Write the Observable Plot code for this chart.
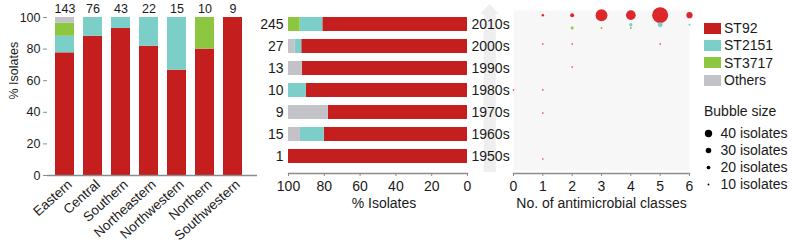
<!DOCTYPE html>
<html><head><meta charset="utf-8">
<script src="https://cdn.jsdelivr.net/npm/d3@7"></script>
<script src="https://cdn.jsdelivr.net/npm/@observablehq/plot@0.6"></script>
<style>
body{margin:0;background:#fff;}
#wrap{position:relative;width:798px;height:244px;overflow:hidden;font-family:"Liberation Sans",Arial,Helvetica,sans-serif;color:#1a1a1a;}
#wrap svg{position:absolute;left:0;top:0;}
#wrap svg.pl-left text{font-size:12.5px;}
#wrap svg.pl-left .rl text{font-size:13.5px;}
#wrap svg.pl-mid text{font-size:14px;}
#wrap svg.pl-bub text{font-size:14px;}
#wrap svg.pl-leg text{font-size:14px;}
.arrow{position:absolute;left:480px;top:4px;width:19px;height:168px;background:#efefef;clip-path:polygon(50% 0,100% 6%,83% 6%,83% 100%,19% 100%,19% 6%,0 6%);}
.sw{position:absolute;left:704px;width:17px;height:11px;}
.lg{position:absolute;left:724px;font-size:14px;line-height:16px;white-space:nowrap;}
.bt{position:absolute;left:704px;top:103px;font-size:14px;line-height:16px;white-space:nowrap;}
</style></head>
<body>
<div id="wrap"><div class="arrow"></div></div>
<script>
// ---------- data ----------
const stNames = ["ST92", "ST2151", "ST3717", "Others"];
const stColors = ["#c41e1e", "#7ccfc8", "#8dc641", "#c2c2c8"];
const bubbleColors = ["#dc272b", "#7ccfc8", "#8dc641", "#c2c2c8"];

const regions = ["Eastern", "Central", "Southern", "Northeastern", "Northwestern", "Northern", "Southwestern"];
const regionTotals = [143, 76, 43, 22, 15, 10, 9];
const regionST92 = [111, 67, 40, 18, 10, 8, 9];
const regionST2151 = [15, 9, 3, 4, 5, 0, 0];
const regionST3717 = [12, 0, 0, 0, 0, 2, 0];
const regionOthers = [5, 0, 0, 0, 0, 0, 0];

const decades = ["2010s", "2000s", "1990s", "1980s", "1970s", "1960s", "1950s"];
const decadeTotals = [245, 27, 13, 10, 9, 15, 1];
const decadeST92 = [198, 25, 12, 9, 7, 12, 1];
const decadeST2151 = [31, 1, 0, 1, 0, 2, 0];
const decadeST3717 = [16, 0, 0, 0, 0, 0, 0];
const decadeOthers = [0, 1, 1, 0, 2, 1, 0];

const pctTicks = [0, 20, 40, 60, 80, 100];
const classTicks = [0, 1, 2, 3, 4, 5, 6];

// bubbles: [decade, ST, no. of antimicrobial classes, isolates]
const bubbleRows = [
  ["2010s", "ST92", 1, 6], ["2010s", "ST92", 2, 13], ["2010s", "ST92", 3, 49],
  ["2010s", "ST92", 4, 39], ["2010s", "ST92", 5, 68], ["2010s", "ST92", 6, 23],
  ["2010s", "ST2151", 4, 10], ["2010s", "ST2151", 5, 17], ["2010s", "ST2151", 6, 4],
  ["2010s", "ST3717", 2, 8], ["2010s", "ST3717", 3, 4], ["2010s", "ST3717", 4, 4],
  ["2000s", "ST92", 1, 2], ["2000s", "ST92", 2, 2], ["2000s", "ST92", 5, 2],
  ["1990s", "ST92", 2, 2],
  ["1980s", "ST92", 0, 2], ["1980s", "ST92", 1, 2],
  ["1970s", "ST92", 1, 2],
  ["1950s", "ST92", 1, 1]
];
const legendSizes = [40, 30, 20, 10];

// ---------- derived tables ----------
const regionCounts = [regionST92, regionST2151, regionST3717, regionOthers];
const regionTable = regions.flatMap((r, i) => stNames.map((st, j) => ({region: r, st, pct: regionCounts[j][i] / regionTotals[i] * 100}))).filter(d => d.pct > 0);
const regionTotalTable = regions.map((r, i) => ({region: r, total: regionTotals[i]}));

const decadeCounts = [decadeST92, decadeST2151, decadeST3717, decadeOthers];
const decadeTable = decades.flatMap((dc, i) => stNames.map((st, j) => ({decade: dc, st, pct: decadeCounts[j][i] / decadeTotals[i] * 100}))).filter(d => d.pct > 0);
const decadeTotalTable = decades.map((dc, i) => ({decade: dc, total: decadeTotals[i]}));

const bubbles = bubbleRows.map(([decade, st, cls, n]) => ({decade, st, cls, n}));

const FONT = '"Liberation Sans", Arial, Helvetica, sans-serif';
const INK = "#1a1a1a";
const AXIS = "#8c8c8c";
const wrap = document.getElementById("wrap");

// ---------- left: regions ----------
wrap.appendChild(Plot.plot({
  className: "pl-left",
  width: 798, height: 244,
  marginLeft: 47, marginRight: 541, marginTop: 17, marginBottom: 69,
  style: {background: "transparent", fontFamily: FONT, color: INK},
  x: {domain: regions, paddingInner: 0.323, paddingOuter: 0.405, align: 0.35, axis: null},
  y: {domain: [0, 100], axis: null},
  color: {domain: stNames, range: stColors},
  marks: [
    Plot.barY(regionTable, {x: "region", y: "pct", fill: "st"}),
    Plot.ruleY([0], {stroke: AXIS, strokeWidth: 1.3}),
    Plot.axisY({ticks: pctTicks, tickSize: 4, tickPadding: 3, stroke: AXIS, label: null}),
    Plot.text(regions, {x: d => d, frameAnchor: "bottom", lineAnchor: "middle", textAnchor: "end", rotate: -42, dx: 5, dy: 7, className: "rl"}),
    Plot.text(regionTotalTable, {x: "region", frameAnchor: "top", lineAnchor: "middle", dy: -8.5, text: "total"}),
    Plot.text(["% Isolates"], {frameAnchor: "left", lineAnchor: "middle", dx: -33.5, dy: 3, rotate: -90})
  ]
}));

// ---------- middle: decades ----------
wrap.appendChild(Plot.plot({
  className: "pl-mid",
  width: 798, height: 244,
  marginLeft: 288, marginRight: 331, marginTop: 6, marginBottom: 71,
  style: {background: "transparent", fontFamily: FONT, color: INK},
  x: {domain: [100, 0], axis: null},
  y: {domain: decades, paddingInner: 0.365, paddingOuter: 0.34, axis: null},
  color: {domain: stNames, range: stColors},
  marks: [
    Plot.barX(decadeTable, {y: "decade", x: "pct", fill: "st"}),
    Plot.frame({anchor: "bottom", stroke: AXIS, strokeWidth: 1.3}),
    Plot.axisX({ticks: pctTicks, tickSize: 3, tickPadding: 5, stroke: AXIS, label: null}),
    Plot.text(decadeTotalTable, {y: "decade", frameAnchor: "left", dx: -5, textAnchor: "end", text: "total"}),
    Plot.text(decades, {y: d => d, frameAnchor: "right", dx: 4, textAnchor: "start"}),
    Plot.text(["% Isolates"], {frameAnchor: "bottom", lineAnchor: "middle", dy: 30, dx: 6})
  ]
}));

// ---------- right: bubbles ----------
const yOff = {"ST92": -6.3, "ST2151": 3.3, "ST3717": 6.5, "Others": 0};
const bubbleMarks = [];
for (const st of stNames) {
  const top = bubbles.filter(d => d.st === st && d.decade === "2010s");
  const rest = bubbles.filter(d => d.st === st && d.decade !== "2010s");
  if (top.length) bubbleMarks.push(Plot.dot(top, {x: "cls", y: "decade", r: "n", fill: bubbleColors[stNames.indexOf(st)], dy: yOff[st]}));
  if (rest.length) bubbleMarks.push(Plot.dot(rest, {x: "cls", y: "decade", r: "n", fill: bubbleColors[stNames.indexOf(st)], dy: -0.5}));
}
wrap.appendChild(Plot.plot({
  className: "pl-bub",
  width: 798, height: 244,
  marginLeft: 513, marginRight: 109, marginTop: 6, marginBottom: 71,
  style: {background: "transparent", fontFamily: FONT, color: INK, overflow: "visible"},
  x: {domain: [0, 6], axis: null},
  y: {domain: decades, paddingInner: 0.365, paddingOuter: 0.34, axis: null},
  r: {type: "linear", domain: [1, 68], range: [0.7, 8]},
  marks: [
    Plot.frame({fill: "#f7f7f7", stroke: null, insetTop: 4, insetBottom: 3}),
    ...bubbleMarks,
    Plot.frame({anchor: "bottom", stroke: AXIS, strokeWidth: 1.3}),
    Plot.axisX({ticks: classTicks, tickSize: 3, tickPadding: 5, stroke: AXIS, label: null, tickFormat: d => d}),
    Plot.text(["No. of antimicrobial classes"], {frameAnchor: "bottom", lineAnchor: "middle", dy: 30})
  ]
}));

// ---------- legends ----------
stNames.forEach((st, i) => {
  const sw = document.createElement("div");
  sw.className = "sw";
  sw.style.top = (22.5 + i * 17.4) + "px";
  sw.style.background = stColors[i];
  wrap.appendChild(sw);
  const lb = document.createElement("div");
  lb.className = "lg";
  lb.style.top = (20 + i * 17.4) + "px";
  lb.textContent = st;
  wrap.appendChild(lb);
});
const bt = document.createElement("div");
bt.className = "bt";
bt.textContent = "Bubble size";
wrap.appendChild(bt);

wrap.appendChild(Plot.plot({
  className: "pl-leg",
  width: 798, height: 244,
  style: {background: "transparent", fontFamily: FONT, color: INK},
  x: {domain: [0, 1], range: [708, 720], axis: null},
  y: {type: "point", domain: legendSizes, range: [132.3, 184], padding: 0, axis: null},
  r: {type: "linear", domain: [0, 40], range: [0, 3.7]},
  marks: [
    Plot.dot(legendSizes, {x: () => 0, y: d => d, r: d => d, fill: "#000"}),
    Plot.text(legendSizes, {x: () => 1, y: d => d, text: d => d + " isolates", textAnchor: "start"})
  ]
}));
</script>
</body></html>
